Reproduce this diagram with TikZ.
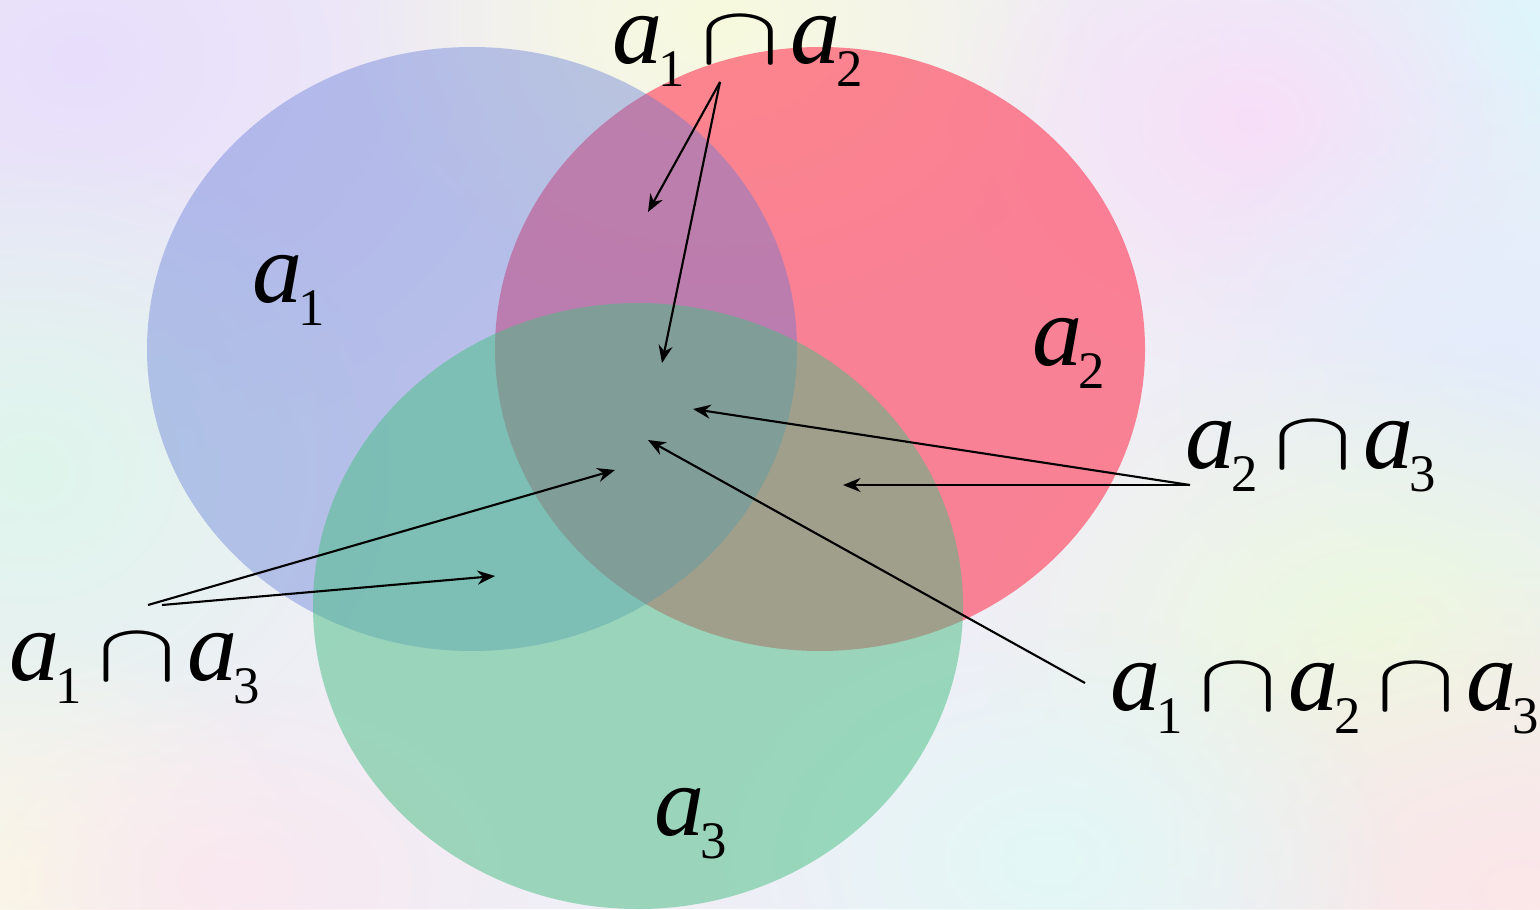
\documentclass[tikz,border=0pt]{standalone}
\usepackage{fontspec}
\setmainfont{Liberation Serif}
\usetikzlibrary{fadings,arrows.meta}
\tikzfading[name=blob, inner color=transparent!0, outer color=transparent!100]
\newcommand{\av}[1]{{\itshape a}\hspace{-1.2pt}\raisebox{-6.8pt}{\fontsize{15pt}{15pt}\selectfont #1}}
\newcommand{\cp}{\hspace{4.5pt}\scalebox{1.36}[0.95]{$\cap$}\hspace{3pt}}
\definecolor{bgbase}{RGB}{240,238,246}
\definecolor{cone}{RGB}{95,120,215}
\definecolor{ctwo}{RGB}{255,71,97}
\definecolor{cthree}{RGB}{70,190,130}
\tikzset{
  lbl/.style={anchor=base west, inner sep=0pt, font=\fontsize{28.5pt}{30pt}\selectfont},
  arr/.style={line width=0.6pt, -{Stealth[length=5pt,width=4pt]}},
  bgblob/.style={path fading=blob}
}
\begin{document}
\begin{tikzpicture}[x=0.01cm,y=-0.01cm]
\useasboundingbox (0,0) rectangle (1540,909);
% background
\fill[bgbase] (0,0) rectangle (1540,909);
\begin{scope}
\clip (0,0) rectangle (1540,909);
\fill[bgblob, color={rgb,255:red,232;green,222;blue,252}] (80,60) ellipse [x radius=500, y radius=400];
\fill[bgblob, color={rgb,255:red,248;green,250;blue,222}] (720,20) ellipse [x radius=380, y radius=300];
\fill[bgblob, color={rgb,255:red,222;green,246;blue,252}] (1520,30) ellipse [x radius=450, y radius=380];
\fill[bgblob, color={rgb,255:red,248;green,222;blue,248}] (1250,120) ellipse [x radius=300, y radius=250];
\fill[bgblob, color={rgb,255:red,228;green,236;blue,252}] (1500,380) ellipse [x radius=350, y radius=300];
\fill[bgblob, color={rgb,255:red,236;green,250;blue,222}] (1380,640) ellipse [x radius=400, y radius=300];
\fill[bgblob, color={rgb,255:red,252;green,230;blue,232}] (1520,890) ellipse [x radius=450, y radius=320];
\fill[bgblob, color={rgb,255:red,222;green,246;blue,236}] (30,470) ellipse [x radius=380, y radius=340];
\fill[bgblob, color={rgb,255:red,250;green,250;blue,228}] (20,880) ellipse [x radius=300, y radius=250];
\fill[bgblob, color={rgb,255:red,250;green,232;blue,240}] (230,880) ellipse [x radius=300, y radius=200];
\fill[bgblob, color={rgb,255:red,226;green,248;blue,246}] (1050,860) ellipse [x radius=350, y radius=250];
\end{scope}
% sets
\fill[ctwo, opacity=0.65] (820,349) ellipse [x radius=325, y radius=302];
\fill[cone, opacity=0.4] (472,349) ellipse [x radius=325, y radius=302];
\fill[cthree, opacity=0.5] (638,606) ellipse [x radius=325, y radius=303];
% labels
\node[lbl] (l12) at (612,63) {\av{1}\cp\av{2}};
\node[lbl] (l1) at (252,302) {\av{1}};
\node[lbl] (l2) at (1032,365) {\av{2}};
\node[lbl] (l23) at (1185,468) {\av{2}\cp\av{3}};
\node[lbl] (l13) at (9,680) {\av{1}\cp\av{3}};
\node[lbl] (l123) at (1110,710) {\av{1}\cp\av{2}\cp\av{3}};
\node[lbl] (l3) at (654,835) {\av{3}};
% arrow ends
\coordinate (s12) at (720,82);
\coordinate (e12a) at (648,212);
\coordinate (e12b) at (662,363);
\coordinate (s23) at (1190,485);
\coordinate (e23a) at (693,409);
\coordinate (e23b) at (843,485);
\coordinate (s13a) at (148,605);
\coordinate (s13b) at (162,605);
\coordinate (e13a) at (615,470);
\coordinate (e13b) at (495,576);
\coordinate (s123) at (1085,683);
\coordinate (e123) at (648,440);
\draw[arr] (s12) -- (e12a);
\draw[arr] (s12) -- (e12b);
\draw[arr] (s23) -- (e23a);
\draw[arr] (s23) -- (e23b);
\draw[arr] (s13a) -- (e13a);
\draw[arr] (s13b) -- (e13b);
\draw[arr] (s123) -- (e123);
\end{tikzpicture}
\end{document}
